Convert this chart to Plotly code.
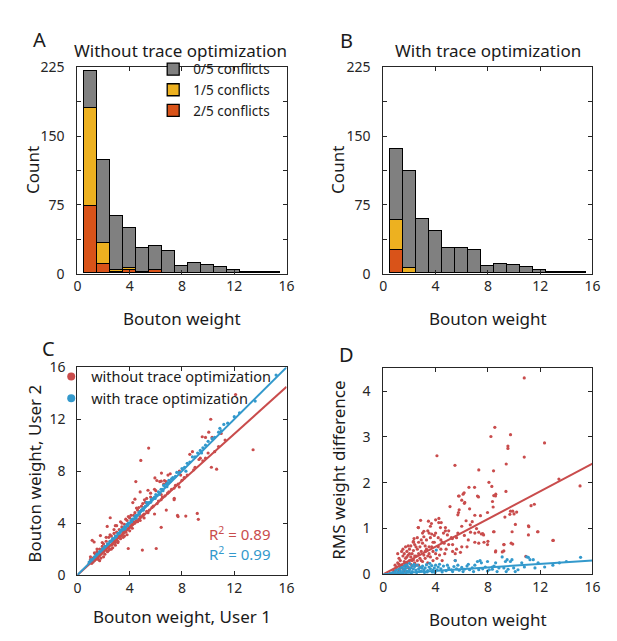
import plotly.graph_objects as go

# ---------------- data ----------------
bin_centers = list(range(1, 16))

# panel A: without trace optimization (stacked counts)
a_two_conf = [73, 10, 1, 3, 0, 3, 0, 0, 0, 0, 0, 0, 0, 0, 0]
a_one_conf = [107, 23, 3, 3, 1, 1, 0, 0, 0, 0, 0, 0, 0, 0, 0]
a_zero_conf = [41, 90, 58, 43, 27, 26, 24, 8, 11, 9, 7, 4, 1, 1, 1]

# panel B: with trace optimization
b_two_conf = [25, 0, 0, 0, 0, 0, 0, 0, 0, 0, 0, 0, 0, 0, 0]
b_one_conf = [33, 6, 0, 0, 0, 0, 0, 0, 0, 0, 0, 0, 0, 0, 0]
b_zero_conf = [78, 106, 59, 46, 28, 28, 25, 8, 10, 9, 7, 4, 1, 1, 1]

# panel C: user 1 vs user 2 bouton weights
c_red_x = [0.9, 1.0, 1.1, 1.2, 1.2, 1.3, 1.4, 1.4, 1.5, 1.5, 1.6, 1.6, 1.7, 1.7, 1.8, 1.8, 1.9, 1.9, 2.0, 2.0,
           2.1, 2.1, 2.2, 2.2, 2.3, 2.3, 2.4, 2.4, 2.5, 2.5, 2.6, 2.6, 2.7, 2.7, 2.8, 2.8, 2.9, 3.0, 3.0, 3.1,
           3.1, 3.2, 3.2, 3.3, 3.4, 3.4, 3.5, 3.5, 3.6, 3.6, 3.7, 3.8, 3.8, 3.9, 4.0, 4.0, 4.1, 4.2, 4.3, 4.4,
           4.5, 4.6, 4.7, 4.8, 4.9, 5.0, 5.1, 5.2, 5.3, 5.5, 5.6, 5.8, 6.0, 6.2, 6.5, 6.6, 6.9, 7.2, 7.5, 7.8,
           8.2, 8.6, 8.9, 9.4, 9.8, 10.3, 10.5, 11.0, 11.3,
           12.1, 10.2, 10.05, 9.55, 13.44, 5.45, 4.85, 10.25, 10.65, 7.79, 7.41, 8.29, 7.66, 9.17, 9.25, 6.41,
           6.03, 4.97, 3.89, 4.47, 5.93, 6.08, 6.41, 6.66, 5.4, 6.41, 5.13, 4.52, 4.4, 2.51, 1.76, 1.13, 6.93,
           6.43, 4.8, 4.24, 7.7, 7.4, 2.28, 1.28, 8.8, 9.3, 6.8, 5.9, 3.3, 2.9, 9.8, 7.9, 8.16, 6.78,
           1.0, 1.3, 1.5, 1.7, 1.9, 2.0, 2.2, 2.4, 2.5, 2.6, 2.8, 2.9, 3.0, 3.1, 3.3, 3.4, 3.5, 3.6, 3.7, 3.8,
           3.9, 4.0, 4.1, 4.2, 4.3, 4.4, 4.6, 4.7, 4.8, 5.0, 5.1, 5.3, 5.4, 5.6, 5.7, 5.9, 6.1, 6.3, 6.4, 6.7,
           7.0, 7.1, 7.4, 7.7, 8.0, 8.4, 9.0, 9.6, 10.0, 10.8]
c_red_y = [0.9, 1.2, 0.9, 1.3, 1.0, 1.1, 1.6, 1.2, 1.3, 1.8, 1.4, 1.2, 2.0, 1.5, 1.6, 1.3, 2.2, 1.7, 1.8, 2.4,
           1.6, 2.0, 2.6, 1.9, 2.1, 1.8, 2.9, 2.2, 2.0, 2.6, 2.3, 3.0, 2.4, 2.1, 3.2, 2.6, 2.5, 3.3, 2.7, 2.9,
           2.5, 3.5, 3.0, 2.8, 3.7, 3.1, 3.2, 2.9, 3.9, 3.4, 3.3, 4.2, 3.5, 3.6, 3.4, 4.4, 3.8, 3.9, 4.6, 4.0,
           4.2, 5.0, 4.3, 4.5, 5.3, 4.6, 4.7, 5.6, 4.9, 5.0, 6.0, 5.3, 6.5, 5.7, 6.0, 7.0, 6.3, 6.6, 6.9, 8.0,
           7.5, 9.3, 8.1, 9.0, 9.0, 10.6, 9.5, 10.9, 10.4,
           13.9, 12.0, 11.0, 10.65, 9.65, 9.78, 8.83, 8.3, 8.15, 6.78, 5.91, 4.54, 4.59, 4.74, 4.29, 3.67,
           2.04, 1.92, 2.04, 7.2, 7.48, 7.28, 7.23, 7.28, 6.53, 6.2, 5.79, 5.16, 5.84, 4.41, 3.04, 2.67, 7.7,
           7.85, 6.4, 5.58, 4.5, 5.8, 3.74, 2.54, 9.5, 8.9, 5.0, 4.7, 4.1, 3.8, 10.6, 7.7, 7.48, 7.2,
           1.4, 1.7, 2.0, 1.1, 2.5, 1.4, 2.9, 1.9, 3.1, 2.0, 3.5, 2.3, 3.8, 2.6, 3.0, 4.0, 3.3, 3.0, 4.3, 3.1,
           4.5, 3.7, 4.6, 3.6, 4.1, 4.8, 4.1, 5.2, 4.2, 5.5, 4.4, 5.9, 4.8, 6.3, 5.2, 6.6, 5.5, 7.2, 5.8, 6.1,
           6.4, 7.8, 6.7, 7.0, 7.3, 7.7, 8.3, 8.8, 9.4, 9.9]

c_blue_x = [0.9, 1.0, 1.1, 1.2, 1.3, 1.4, 1.5, 1.6, 1.7, 1.8, 1.9, 2.0, 2.1, 2.2, 2.3, 2.4, 2.5, 2.6, 2.7, 2.8,
            2.9, 3.0, 3.1, 3.2, 3.3, 3.4, 3.5, 3.6, 3.7, 3.8, 3.9, 4.0, 4.1, 4.2, 4.3, 4.4, 4.5, 4.6, 4.7, 4.8,
            4.9, 5.0, 5.1, 5.2, 5.4, 5.5, 5.6, 5.8, 5.9, 6.0, 6.1, 6.2, 6.3, 6.4, 6.5, 6.6, 6.7, 6.8, 6.9, 7.0,
            7.1, 7.3, 7.5, 7.6, 7.8, 8.0, 8.2, 8.4, 8.6, 8.8, 9.0, 9.2, 9.4, 9.6, 9.8, 10.0, 10.3, 10.5, 10.8,
            11.0, 11.2, 11.5, 12.0, 12.4, 13.6, 15.2, 10.9, 9.5, 8.3, 4.5, 3.7, 5.3, 7.2,
            1.15, 1.45, 1.75, 2.05, 2.35, 2.65, 2.95, 3.25, 3.55, 3.85, 4.15, 4.45, 4.75, 5.05, 5.35, 5.65,
            5.95, 6.25, 6.55, 6.85]
c_blue_y = [1.0, 1.1, 1.2, 1.2, 1.4, 1.4, 1.6, 1.6, 1.8, 1.8, 2.0, 2.0, 2.2, 2.2, 2.4, 2.4, 2.6, 2.6, 2.8, 2.8,
            3.0, 3.0, 3.2, 3.2, 3.4, 3.5, 3.5, 3.7, 3.7, 3.9, 4.0, 4.0, 4.2, 4.3, 4.3, 4.5, 4.6, 4.6, 4.8, 4.9,
            5.0, 5.1, 5.2, 5.3, 5.5, 5.6, 5.6, 5.9, 6.0, 6.2, 6.1, 6.4, 6.3, 6.6, 6.6, 6.9, 6.8, 7.0, 7.1, 7.3,
            7.2, 7.5, 7.6, 7.9, 7.9, 8.2, 8.3, 8.6, 8.7, 9.1, 9.1, 9.4, 9.6, 9.8, 10.0, 10.3, 10.5, 10.6, 11.0,
            11.1, 11.6, 11.7, 12.2, 12.5, 13.4, 15.4, 11.3, 9.4, 8.0, 4.4, 3.5, 5.6, 7.4,
            1.1, 1.5, 1.7, 2.1, 2.3, 2.7, 2.9, 3.3, 3.6, 3.8, 4.1, 4.4, 4.7, 5.0, 5.4, 5.8,
            5.9, 6.2, 6.5, 6.8]

c_fit_red = 0.906
c_fit_blue = 1.0
c_r2_red = "0.89"
c_r2_blue = "0.99"

# panel D: RMS weight difference vs bouton weight
d_red_x = [10.78, 8.53, 8.23, 9.73, 9.53, 9.53, 12.33, 4.1, 10.78, 9.4, 5.48, 7.3, 8.43, 13.43, 8.08, 15.05,
           8.3, 6.98, 9.38, 5.75, 6.18, 8.58, 6.23, 7.28, 9.73, 9.68, 11.3, 11.55, 11.13, 11.83, 13.0, 9.85,
           8.6, 8.35, 8.4, 7.97, 9.3, 9.9, 10.0, 10.2, 10.1, 11.1, 11.8, 11.1, 8.47, 7.67, 7.97, 9.22, 9.9,
           12.97, 8.6, 9.22, 10.9,
           6.55, 5.8, 6.0, 6.1, 6.2, 7.2, 8.45, 5.75, 5.8, 2.85, 6.33, 4.24, 4.37, 2.67, 6.67, 3.4, 3.6, 3.7,
           3.9, 3.5, 4.6, 4.75, 4.9, 4.4, 4.5, 4.65, 7.0, 7.3, 7.5, 7.0, 7.3, 7.7, 8.0, 2.3, 2.35, 2.9, 3.0,
           3.2, 5.3, 5.6, 5.9, 5.5, 3.8, 4.0, 4.3,
           1.0, 1.1, 1.2, 1.3, 1.4, 1.5, 1.5, 1.6, 1.7, 1.7, 1.8, 1.8, 1.9, 1.9, 2.0, 2.0, 2.1, 2.1, 2.2, 2.2,
           2.3, 2.3, 2.4, 2.5, 2.5, 2.6, 2.7, 2.7, 2.8, 2.9, 3.0, 3.1, 3.2, 3.3, 3.4, 3.5, 3.6, 3.7, 3.8, 3.9,
           4.1, 4.2, 4.5, 4.8, 5.0, 5.2, 5.5, 6.0, 6.2, 6.5, 0.8, 0.9, 1.2, 1.6, 2.0, 2.4, 2.6, 3.1, 1.4, 1.9,
           5.1, 5.7, 6.6, 6.65, 7.0, 7.43, 7.13, 7.6, 8.43, 5.6, 5.28, 4.75, 4.25, 4.0, 4.43, 3.68, 3.45, 2.68,
           3.1, 8.58, 9.1, 9.23, 9.78,
           1.1, 1.3, 1.5, 1.6, 1.8, 2.0, 2.1, 2.2, 2.3, 2.4, 2.6, 2.8, 2.9, 3.0, 3.2, 3.3, 3.5, 3.6, 3.8, 4.0,
           4.2, 4.4, 4.7, 5.0, 5.3, 5.7, 6.0, 6.4, 6.8, 1.2, 1.7, 2.5, 2.7, 3.4]
d_red_y = [4.29, 3.21, 3.01, 3.05, 2.80, 2.75, 2.87, 2.59, 2.56, 2.41, 2.38, 2.28, 2.26, 2.08, 2.01, 1.93,
           1.92, 1.90, 1.81, 1.71, 1.78, 1.71, 1.57, 1.69, 1.38, 1.31, 1.50, 1.53, 1.04, 0.93, 0.74, 0.93,
           1.75, 1.59, 1.47, 1.35, 1.25, 1.38, 1.32, 1.36, 1.09, 1.06, 0.93, 0.86, 0.93, 0.86, 0.65, 0.65, 0.66,
           0.74, 0.51, 0.51, 0.39,
           1.90, 1.71, 1.62, 1.75, 1.55, 1.71, 1.72, 1.35, 1.41, 1.18, 1.17, 1.13, 1.02, 1.02, 0.92, 0.95, 1.05,
           0.88, 0.85, 0.90, 0.90, 0.95, 0.86, 0.75, 0.70, 0.68, 0.90, 0.92, 0.88, 0.70, 0.68, 0.70, 0.72, 0.70,
           0.78, 0.75, 0.68, 0.62, 0.50, 0.55, 0.48, 0.45, 0.50, 0.45, 0.42,
           0.15, 0.25, 0.10, 0.30, 0.20, 0.40, 0.12, 0.28, 0.35, 0.18, 0.50, 0.25, 0.42, 0.15, 0.30, 0.55, 0.22,
           0.38, 0.45, 0.18, 0.32, 0.52, 0.25, 0.40, 0.60, 0.30, 0.45, 0.20, 0.35, 0.50, 0.28, 0.42, 0.35, 0.55,
           0.25, 0.45, 0.38, 0.60, 0.30, 0.70, 0.35, 0.60, 0.30, 0.55, 0.65, 0.80, 0.30, 0.60, 0.85, 0.75, 0.08,
           0.20, 0.35, 0.45, 0.12, 0.65, 0.80, 0.82, 0.50, 0.62,
           1.48, 1.30, 1.43, 1.08, 1.29, 1.28, 1.00, 0.89, 0.93, 0.80, 0.78, 1.02, 1.22, 1.19, 1.13, 1.11, 1.16,
           1.02, 0.94, 0.49, 0.49, 0.65, 0.68,
           0.45, 0.15, 0.55, 0.08, 0.38, 0.45, 0.62, 0.30, 0.72, 0.40, 0.55, 0.60, 0.30, 0.90, 0.50, 0.75, 0.60,
           0.80, 0.70, 0.90, 0.80, 0.55, 0.45, 0.95, 0.65, 0.90, 1.05, 0.60, 1.15, 0.22, 0.60, 0.20, 0.70, 0.40]

d_blue_x = [0.5, 0.7, 0.9, 1.0, 1.1, 1.2, 1.3, 1.4, 1.5, 1.6, 1.6, 1.7, 1.7, 1.8, 1.8, 1.9, 2.0, 2.0, 2.1, 2.2,
            2.2, 2.3, 2.4, 2.5, 2.6, 2.7, 2.8, 2.9, 3.0, 3.1, 3.2, 3.3, 3.4, 3.5, 3.6, 3.7, 3.8, 3.9, 4.0, 4.05,
            4.1, 4.2, 4.4, 4.6, 4.8, 5.0, 5.2, 5.4, 5.5, 5.6, 5.8, 6.0, 6.2, 6.4, 6.6, 6.8, 7.0, 7.2, 7.4, 7.5,
            7.6, 7.8, 9.09, 9.47, 9.34, 9.72, 9.84, 8.59, 7.97, 8.47, 8.34, 8.84, 9.22, 9.54, 10.09, 9.97,
            10.59, 10.79, 10.97, 11.09, 11.22, 11.47, 11.84, 12.34, 12.97, 13.47, 15.09, 7.97, 8.34,
            1.15, 1.35, 1.55, 1.75, 1.95, 2.15, 2.35, 2.55, 2.75, 2.95, 3.15, 3.35, 3.55, 3.75, 3.95, 4.3,
            4.5, 4.9, 5.3, 5.7, 6.1, 6.5, 6.9, 7.3, 8.1, 8.7, 9.4, 10.3, 11.6, 14.0]
d_blue_y = [0.02, 0.04, 0.06, 0.10, 0.05, 0.12, 0.08, 0.15, 0.06, 0.18, 0.10, 0.22, 0.13, 0.20, 0.07, 0.16,
            0.24, 0.10, 0.14, 0.19, 0.06, 0.12, 0.17, 0.09, 0.20, 0.12, 0.15, 0.07, 0.18, 0.10, 0.14, 0.21,
            0.08, 0.16, 0.12, 0.19, 0.09, 0.14, 0.20, 0.53, 0.10, 0.16, 0.12, 0.18, 0.08, 0.14, 0.10, 0.17,
            0.30, 0.12, 0.09, 0.15, 0.11, 0.18, 0.10, 0.14, 0.20, 0.28, 0.30, 0.25, 0.12, 0.16, 0.38, 0.32,
            0.28, 0.28, 0.32, 0.25, 0.28, 0.18, 0.11, 0.14, 0.14, 0.11, 0.06, 0.14, 0.25, 0.16, 0.38, 0.37,
            0.32, 0.32, 0.25, 0.16, 0.20, 0.25, 0.37, 0.07, 0.16,
            0.02, 0.03, 0.12, 0.04, 0.05, 0.03, 0.22, 0.04, 0.06, 0.14, 0.04, 0.05, 0.24, 0.05, 0.04, 0.22,
            0.05, 0.20, 0.06, 0.20, 0.06, 0.22, 0.06, 0.10, 0.10, 0.06, 0.06, 0.10, 0.14, 0.28]

d_fit_red = 0.151
d_fit_blue = 0.019

# ---------------- style ----------------
FONT = "Noto Sans"
INK = "#1a1a1a"
GRAY = "#808080"
YELLOW = "#EDB120"
ORANGE = "#D95319"
RED = "#C94C4C"
BLUE = "#3399CC"
W, H = 617, 641


def px_x(p):
    return p / W


def px_y(p):
    return 1 - p / H


fig = go.Figure()

bar_style = dict(width=1, marker_line=dict(color="black", width=1.3))
for name, vals, col in [("2/5 conflicts", a_two_conf, ORANGE),
                        ("1/5 conflicts", a_one_conf, YELLOW),
                        ("0/5 conflicts", a_zero_conf, GRAY)]:
    fig.add_trace(go.Bar(x=bin_centers, y=vals, name=name, marker_color=col,
                         xaxis="x", yaxis="y", legend="legend", **bar_style))
for name, vals, col in [("2/5 conflicts", b_two_conf, ORANGE),
                        ("1/5 conflicts", b_one_conf, YELLOW),
                        ("0/5 conflicts", b_zero_conf, GRAY)]:
    fig.add_trace(go.Bar(x=bin_centers, y=vals, name=name, marker_color=col,
                         xaxis="x2", yaxis="y2", showlegend=False, **bar_style))

dot = dict(size=3.2)

# panel C
fig.add_trace(go.Scatter(x=c_red_x, y=c_red_y, mode="markers", marker=dict(color=RED, **dot),
                         xaxis="x3", yaxis="y3", showlegend=False))
fig.add_trace(go.Scatter(x=c_blue_x, y=c_blue_y, mode="markers", marker=dict(color=BLUE, **dot),
                         xaxis="x3", yaxis="y3", showlegend=False))
fig.add_trace(go.Scatter(x=[0, 16], y=[0, 16 * c_fit_red], mode="lines", line=dict(color=RED, width=2),
                         xaxis="x3", yaxis="y3", showlegend=False))
fig.add_trace(go.Scatter(x=[0, 16], y=[0, 16 * c_fit_blue], mode="lines", line=dict(color=BLUE, width=2),
                         xaxis="x3", yaxis="y3", showlegend=False))
# legend-only entries with bigger dots
fig.add_trace(go.Scatter(x=[None], y=[None], mode="markers", marker=dict(size=8, color=RED),
                         name="without trace optimization", xaxis="x3", yaxis="y3", legend="legend2"))
fig.add_trace(go.Scatter(x=[None], y=[None], mode="markers", marker=dict(size=8, color=BLUE),
                         name="with trace optimization", xaxis="x3", yaxis="y3", legend="legend2"))

# panel D
fig.add_trace(go.Scatter(x=d_red_x, y=d_red_y, mode="markers", marker=dict(color=RED, **dot),
                         xaxis="x4", yaxis="y4", showlegend=False))
fig.add_trace(go.Scatter(x=d_blue_x, y=d_blue_y, mode="markers", marker=dict(color=BLUE, **dot),
                         xaxis="x4", yaxis="y4", showlegend=False))
fig.add_trace(go.Scatter(x=[0, 16], y=[0, 16 * d_fit_red], mode="lines", line=dict(color=RED, width=2),
                         xaxis="x4", yaxis="y4", showlegend=False))
fig.add_trace(go.Scatter(x=[0, 16], y=[0, 16 * d_fit_blue], mode="lines", line=dict(color=BLUE, width=2),
                         xaxis="x4", yaxis="y4", showlegend=False))


def axis(domain, rng, tickvals, anchor, standoff=0, minor=None):
    ax = dict(domain=domain, range=rng, tickvals=tickvals, anchor=anchor,
              showline=True, linecolor="#262626", linewidth=1, mirror="ticks",
              ticks="inside", ticklen=4, tickcolor="#262626", showgrid=False, zeroline=False,
              ticklabelstandoff=standoff,
              tickfont=dict(size=14, color="#262626", family=FONT), fixedrange=True)
    if minor:
        ax["minor"] = dict(tickvals=minor, ticks="inside", ticklen=4, tickcolor="#262626", showgrid=False)
    return ax


w_vals = [0, 4, 8, 12, 16]
count_vals = [0, 75, 150, 225]
count_minor = [37.5, 112.5, 187.5]
rms_vals = [0, 1, 2, 3, 4]

dom_ax = [px_x(66.7), px_x(280)]
dom_bx = [px_x(378.7), px_x(592)]
dom_top = [px_y(263.5), px_y(51)]
dom_cy = [px_y(574), px_y(360)]
dom_dy = [px_y(573.3), px_y(361)]

fig.update_layout(
    width=W, height=H,
    margin=dict(l=0, r=0, t=0, b=0),
    paper_bgcolor="white", plot_bgcolor="white",
    font=dict(family=FONT, color=INK),
    barmode="stack", bargap=0,
    xaxis=axis(dom_ax, [0, 16], w_vals, "y"),
    yaxis=axis(dom_top, [0, 225], count_vals, "x", 9, count_minor),
    xaxis2=axis(dom_bx, [0, 16], w_vals, "y2"),
    yaxis2=axis(dom_top, [0, 225], count_vals, "x2", 9, count_minor),
    xaxis3=axis(dom_ax, [0, 16], w_vals, "y3"),
    yaxis3=axis(dom_cy, [0, 16], w_vals, "x3", 8),
    xaxis4=axis(dom_bx, [0, 16], w_vals, "y4"),
    yaxis4=axis(dom_dy, [0, 4.5], rms_vals, "x4", 9),
    legend=dict(x=px_x(144), y=px_y(37), xanchor="left", yanchor="top",
                bgcolor="rgba(255,255,255,0)", font=dict(size=13.5, color=INK),
                traceorder="reversed", tracegroupgap=0, itemwidth=30),
    legend2=dict(x=px_x(40), y=px_y(353), xanchor="left", yanchor="top",
                 bgcolor="rgba(255,255,255,0)", font=dict(size=14.5, color=INK),
                 tracegroupgap=0, itemwidth=30),
)

ann = []


def text(x, y, s, size, color=INK, angle=0, xanchor="center"):
    ann.append(dict(x=px_x(x), y=px_y(y), xref="paper", yref="paper", text=s, showarrow=False,
                    font=dict(size=size, color=color, family=FONT), textangle=angle,
                    xanchor=xanchor, yanchor="middle"))


# panel letters
text(28, 22, "A", 20)
text(341, 23, "B", 20)
text(37.5, 341, "C", 20)
text(341, 347, "D", 20)
# titles
text(172, 33, "Without trace optimization", 17)
text(485, 33, "With trace optimization", 17)
# axis titles
text(173, 310, "Bouton weight", 17)
text(485, 310, "Bouton weight", 17)
text(173, 617, "Bouton weight, User 1", 17)
text(485, 620, "Bouton weight", 17)
text(21, 157, "Count", 17, angle=-90)
text(332, 157, "Count", 17, angle=-90)
text(22, 470, "Bouton weight, User 2", 17, angle=-90)
text(333, 466, "RMS weight difference", 17, angle=-90)
# R^2
text(266, 531, "R<sup>2</sup> = " + c_r2_red, 15, color=RED, xanchor="right")
text(266, 552, "R<sup>2</sup> = " + c_r2_blue, 15, color=BLUE, xanchor="right")

fig.update_layout(annotations=ann)

fig.write_html("out.html")
